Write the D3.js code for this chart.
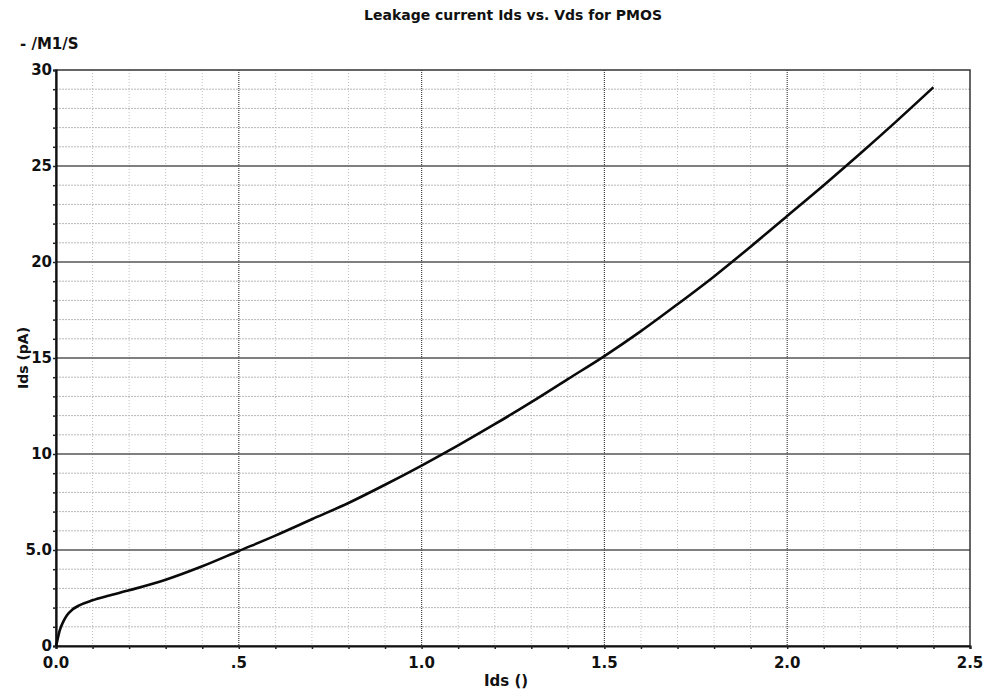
<!DOCTYPE html>
<html>
<head>
<meta charset="utf-8">
<script src="https://cdn.jsdelivr.net/npm/d3@7"></script>
<style>
  body { margin: 0; background: #fff; }
  text { font-family: "DejaVu Sans", Verdana, sans-serif; font-weight: bold; fill: #111; }
</style>
</head>
<body>
<div id="d3-graph"></div>

<script>
// curve
var vds = [0, 0.002, 0.01, 0.02, 0.03, 0.045, 0.065, 0.1, 0.14, 0.2, 0.3, 0.4, 0.5, 0.6, 0.7, 0.8, 0.9,
           1.0, 1.1, 1.2, 1.3, 1.4, 1.5, 1.6, 1.7, 1.8, 1.9, 2.0, 2.1, 2.2, 2.3, 2.4];
var ids = [0, 0.15, 0.8, 1.27, 1.6, 1.9, 2.13, 2.38, 2.6, 2.9, 3.45, 4.15, 4.95, 5.75, 6.6, 7.45, 8.4,
           9.4, 10.45, 11.55, 12.7, 13.9, 15.1, 16.4, 17.8, 19.25, 20.8, 22.4, 24.0, 25.65, 27.35, 29.1];

var xTicks = [0, 0.5, 1.0, 1.5, 2.0, 2.5];
var xTickLabels = ["0.0", ".5", "1.0", "1.5", "2.0", "2.5"];
var yTicks = [0, 5, 10, 15, 20, 25, 30];
var yTickLabels = ["0", "5.0", "10", "15", "20", "25", "30"];

var chartTitle = "Leakage current Ids vs. Vds for PMOS";
var legendLabel = "- /M1/S";
var xTitle = "Ids ()";
var yTitle = "Ids (pA)";

// dimensions
const W = 989, H = 696;
const margin = {top: 70, right: 19, bottom: 50, left: 56},
    width = W - margin.left - margin.right,
    height = H - margin.top - margin.bottom;

const svg = d3.select("#d3-graph")
  .append("svg")
    .attr("width", W)
    .attr("height", H);

const g = svg.append("g")
    .attr("transform", `translate(${margin.left},${margin.top})`);

const x = d3.scaleLinear().domain([0, 2.5]).range([0, width]);
const y = d3.scaleLinear().domain([0, 30]).range([height, 0]);

// minor grid
const xMinor = d3.range(0, 2.5001, 0.1).map(v => +v.toFixed(2));
const yMinor = d3.range(0, 30.001, 1);

g.append("g")
  .selectAll("line")
  .data(xMinor.filter(v => Math.abs(v * 2 - Math.round(v * 2)) > 1e-6))
  .join("line")
    .attr("x1", d => x(d)).attr("x2", d => x(d))
    .attr("y1", 0).attr("y2", height)
    .attr("stroke", "#c0c0c0")
    .attr("stroke-width", 1)
    .attr("stroke-dasharray", "1,2");

g.append("g")
  .selectAll("line")
  .data(yMinor.filter(v => v % 5 !== 0))
  .join("line")
    .attr("x1", 0).attr("x2", width)
    .attr("y1", d => y(d)).attr("y2", d => y(d))
    .attr("stroke", "#b8b8b8")
    .attr("stroke-width", 1)
    .attr("stroke-dasharray", "2,1");

// major grid
g.append("g")
  .selectAll("line")
  .data(xTicks.slice(1, -1))
  .join("line")
    .attr("x1", d => x(d)).attr("x2", d => x(d))
    .attr("y1", 0).attr("y2", height)
    .attr("stroke", "#444")
    .attr("stroke-width", 1.2)
    .attr("stroke-dasharray", "1,1");

g.append("g")
  .selectAll("line")
  .data(yTicks.slice(1, -1))
  .join("line")
    .attr("x1", 0).attr("x2", width)
    .attr("y1", d => y(d)).attr("y2", d => y(d))
    .attr("stroke", "#555")
    .attr("stroke-width", 1.4);

// frame: top and right
g.append("rect")
  .attr("x", 0).attr("y", 0)
  .attr("width", width).attr("height", height)
  .attr("fill", "none")
  .attr("stroke", "#333")
  .attr("stroke-width", 1.5);

// X axis
const xAxis = g.append("g")
  .attr("transform", `translate(0,${height})`)
  .call(d3.axisBottom(x).tickValues(xMinor).tickSize(3).tickFormat(""));
xAxis.select(".domain").attr("stroke", "#111").attr("stroke-width", 2.2);
xAxis.selectAll(".tick line").attr("stroke", "#222").attr("stroke-width", 1.5);

g.append("g")
  .selectAll("text")
  .data(xTicks)
  .join("text")
    .attr("x", d => x(d))
    .attr("y", height + 22)
    .attr("text-anchor", "middle")
    .attr("font-size", 15)
    .text((d, i) => xTickLabels[i]);

// Y axis
const yAxis = g.append("g")
  .call(d3.axisLeft(y).tickValues(yMinor).tickSize(3).tickFormat(""));
yAxis.select(".domain").attr("stroke", "#111").attr("stroke-width", 2.2);
yAxis.selectAll(".tick line").attr("stroke", "#222").attr("stroke-width", 1.5);

g.append("g")
  .selectAll("text")
  .data(yTicks)
  .join("text")
    .attr("x", -4)
    .attr("y", d => y(d))
    .attr("dy", "0.35em")
    .attr("text-anchor", "end")
    .attr("font-size", 15)
    .text((d, i) => yTickLabels[i]);

// the curve
const pts = vds.map((v, i) => ({v: v, i: ids[i]}));
g.append("path")
  .datum(pts)
  .attr("fill", "none")
  .attr("stroke", "#0a0a0a")
  .attr("stroke-width", 2.6)
  .attr("stroke-linejoin", "round")
  .attr("d", d3.line()
    .curve(d3.curveMonotoneX)
    .x(function(d) { return x(d.v) })
    .y(function(d) { return y(d.i) })
    );

// titles
svg.append("text")
  .attr("x", 513).attr("y", 20)
  .attr("text-anchor", "middle")
  .attr("font-size", 14)
  .text(chartTitle);

svg.append("text")
  .attr("x", 20).attr("y", 49)
  .attr("font-size", 15)
  .text(legendLabel);

svg.append("text")
  .attr("x", 506).attr("y", 686)
  .attr("text-anchor", "middle")
  .attr("font-size", 15)
  .text(xTitle);

svg.append("text")
  .attr("transform", "translate(28,358) rotate(-90)")
  .attr("text-anchor", "middle")
  .attr("font-size", 14)
  .text(yTitle);
</script>
</body>
</html>
